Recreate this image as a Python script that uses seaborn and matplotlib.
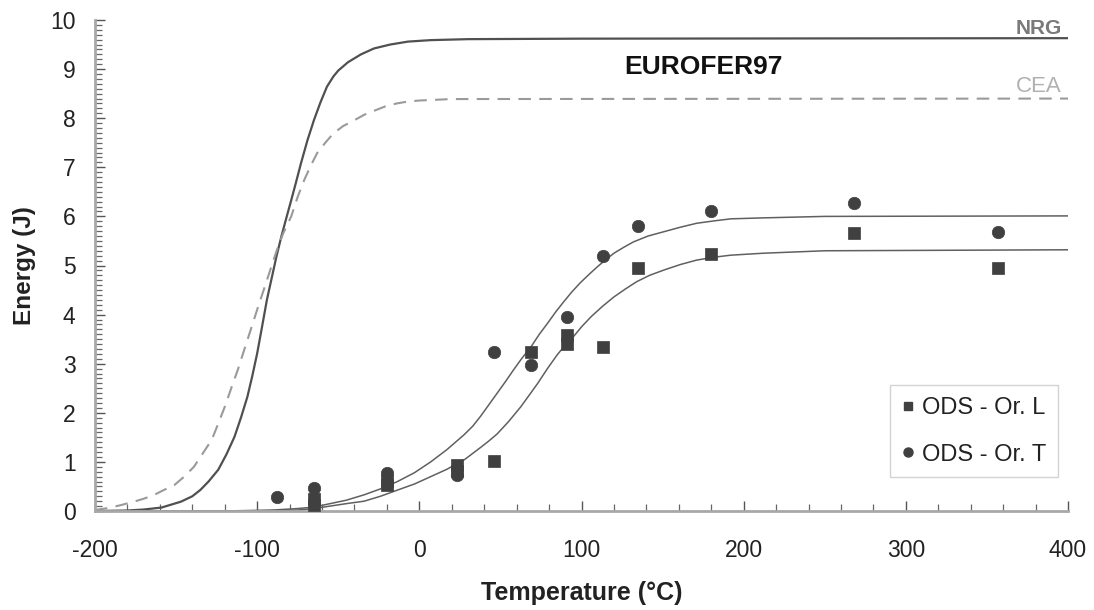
import numpy as np
import pandas as pd
import matplotlib
matplotlib.use("Agg")
import matplotlib.pyplot as plt
from matplotlib.ticker import MultipleLocator
from matplotlib.lines import Line2D
import seaborn as sns

# ---- data ----
nrg_T = [-200, -180, -170, -159, -147, -140, -135, -130, -124, -119, -114, -110, -106, -103,
         -100, -97, -94, -91, -88, -85, -82, -79, -76, -73, -69, -65, -61, -57, -53, -50,
         -44, -36, -28, -18, -7, 7, 30, 100, 400]
nrg_E = [0.0, 0.01, 0.03, 0.07, 0.19, 0.3, 0.43, 0.6, 0.84, 1.15, 1.51, 1.9, 2.33, 2.75,
         3.21, 3.75, 4.3, 4.75, 5.2, 5.6, 5.97, 6.33, 6.7, 7.08, 7.55, 7.96, 8.32, 8.64,
         8.85, 8.97, 9.14, 9.3, 9.42, 9.5, 9.56, 9.59, 9.61, 9.62, 9.63]

cea_T = [-200, -192, -184, -175, -170, -164, -158, -151, -145, -139, -134, -128, -124,
         -120, -116, -112, -108, -104, -100, -96, -92, -88, -84, -79, -75, -71, -67, -63,
         -58, -53, -47, -40, -34, -28, -21, -14, -7, 0, 20, 400]
cea_E = [0.02, 0.06, 0.12, 0.2, 0.25, 0.32, 0.42, 0.53, 0.7, 0.9, 1.15, 1.45, 1.78,
         2.12, 2.5, 2.87, 3.28, 3.69, 4.1, 4.5, 4.9, 5.3, 5.65, 6.0, 6.4, 6.74, 7.03, 7.29,
         7.5, 7.69, 7.84, 7.96, 8.07, 8.15, 8.24, 8.3, 8.34, 8.36, 8.39, 8.4]

fitT_T = [-200, -120, -90, -75, -65, -55, -45, -34, -24, -13.5, -3, 7, 17, 27.5, 33, 38,
          43, 48, 53, 58, 63, 69, 74, 79, 84, 89, 94, 99, 105, 110, 115, 120, 126, 132,
          141, 151, 161, 171, 182, 192, 212, 250, 400]
fitT_E = [0.0, 0.0, 0.02, 0.05, 0.08, 0.15, 0.22, 0.33, 0.45, 0.6, 0.78, 1.0, 1.25, 1.55,
          1.73, 1.94, 2.17, 2.4, 2.63, 2.87, 3.1, 3.35, 3.6, 3.82, 4.05, 4.26, 4.46, 4.64,
          4.83, 4.98, 5.12, 5.25, 5.37, 5.48, 5.6, 5.69, 5.78, 5.86, 5.91, 5.95, 5.97,
          6.0, 6.01]

fitL_T = [-200, -100, -75, -65, -55, -45, -34, -24, -14, -3, 7, 17, 28, 38, 43, 48, 55,
          62.5, 68, 73, 79, 85, 90, 95, 100, 106, 113, 120, 127, 134, 142, 151, 161, 171,
          182, 192, 212, 250, 400]
fitL_E = [0.0, 0.0, 0.02, 0.05, 0.1, 0.15, 0.2, 0.3, 0.42, 0.55, 0.7, 0.85, 1.05, 1.3,
          1.43, 1.57, 1.82, 2.12, 2.37, 2.6, 2.9, 3.18, 3.38, 3.55, 3.75, 3.96, 4.17, 4.36,
          4.52, 4.67, 4.8, 4.91, 5.02, 5.11, 5.17, 5.21, 5.25, 5.3, 5.32]

odsL_T = [-65, -65, -20, -20, 23, 23, 46, 69, 91, 91, 113, 135, 180, 268, 357]
odsL_E = [0.25, 0.12, 0.62, 0.52, 0.94, 0.82, 1.02, 3.24, 3.58, 3.41, 3.35, 4.94, 5.23, 5.66, 4.94]

odsT_T = [-88, -65, -20, 23, 46, 69, 91, 113, 135, 180, 268, 357]
odsT_E = [0.29, 0.47, 0.77, 0.74, 3.24, 2.97, 3.96, 5.19, 5.81, 6.11, 6.28, 5.68]

x_ticks = [-200, -100, 0, 100, 200, 300, 400]
y_ticks = list(range(0, 11))

# ---- figure ----
sns.set_theme(style="white")
plt.rcParams['font.family'] = ['Liberation Sans', 'DejaVu Sans']

fig = plt.figure(figsize=(10.94, 6.10), dpi=100)
ax = fig.add_axes([95 / 1094, 1 - 511 / 610, (1068 - 95) / 1094, (511 - 20) / 610])

def df(T, E):
    return pd.DataFrame({"T": T, "E": E})

sns.lineplot(data=df(nrg_T, nrg_E), x="T", y="E", ax=ax, color="#505050", lw=1.6,
             sort=False, estimator=None)
sns.lineplot(data=df(cea_T, cea_E), x="T", y="E", ax=ax, color="#9a9a9a", lw=1.5,
             sort=False, estimator=None, linestyle=(0, (6, 4)))
sns.lineplot(data=df(fitT_T, fitT_E), x="T", y="E", ax=ax, color="#606060", lw=1.1,
             sort=False, estimator=None)
sns.lineplot(data=df(fitL_T, fitL_E), x="T", y="E", ax=ax, color="#606060", lw=1.1,
             sort=False, estimator=None)

sns.scatterplot(data=df(odsL_T, odsL_E), x="T", y="E", ax=ax, marker="s", s=70,
                color="#404040", edgecolor="#404040", linewidth=0.5, zorder=5)
sns.scatterplot(data=df(odsT_T, odsT_E), x="T", y="E", ax=ax, marker="o", s=80,
                color="#404040", edgecolor="#404040", linewidth=0.5, zorder=5)

ax.set_xlim(-200, 400)
ax.set_ylim(0, 10)
ax.set_xticks(x_ticks)
ax.set_yticks(y_ticks)
ax.xaxis.set_minor_locator(MultipleLocator(20))
ax.yaxis.set_minor_locator(MultipleLocator(0.1))
ax.set_xticklabels([str(v) for v in x_ticks])
ax.set_yticklabels([str(v) for v in y_ticks])

ax.tick_params(axis="both", which="both", bottom=True, left=True, top=False, right=False)
ax.tick_params(axis="both", which="major", direction="in", length=7, width=1.0,
               color="#555555", labelsize=16.5, labelcolor="#222222")
ax.tick_params(axis="both", which="minor", direction="in", length=5, width=0.9,
               color="#666666")
ax.tick_params(axis="x", which="both", pad=20)
ax.tick_params(axis="y", which="both", pad=14)

for side in ["top", "right"]:
    ax.spines[side].set_visible(False)
for side in ["left", "bottom"]:
    ax.spines[side].set_color("#a8a8a8")
    ax.spines[side].set_linewidth(2)

ax.set_xlabel("Temperature (°C)", fontsize=18, fontweight="bold", labelpad=14,
              color="#222222")
ax.set_ylabel("Energy (J)", fontsize=17.5, fontweight="bold", labelpad=10,
              color="#222222")

ax.text(175, 9.05, "EUROFER97", fontsize=19, fontweight="bold", ha="center",
        va="center", color="#111111")
ax.text(396, 9.83, "NRG", fontsize=15, fontweight="bold", ha="right", va="center",
        color="#7a7a7a")
ax.text(396, 8.64, "CEA", fontsize=16, ha="right", va="center", color="#b0b0b0")

handles = [Line2D([], [], marker="s", ls="none", color="#404040", markersize=6),
           Line2D([], [], marker="o", ls="none", color="#404040", markersize=6.5)]
leg = ax.legend(handles, ["ODS - Or. L", "ODS - Or. T"], loc="upper left",
                bbox_to_anchor=((890 - 95) / 973, 1 - (385 - 20) / 491),
                fontsize=17, frameon=True, fancybox=False, handletextpad=0.35,
                handlelength=0.5, labelspacing=1.05, borderpad=0.5, borderaxespad=0)
leg.get_frame().set_edgecolor("#c8c8c8")
leg.get_frame().set_linewidth(1.0)
for t in leg.get_texts():
    t.set_color("#222222")

fig.savefig("out.png", dpi=100)
